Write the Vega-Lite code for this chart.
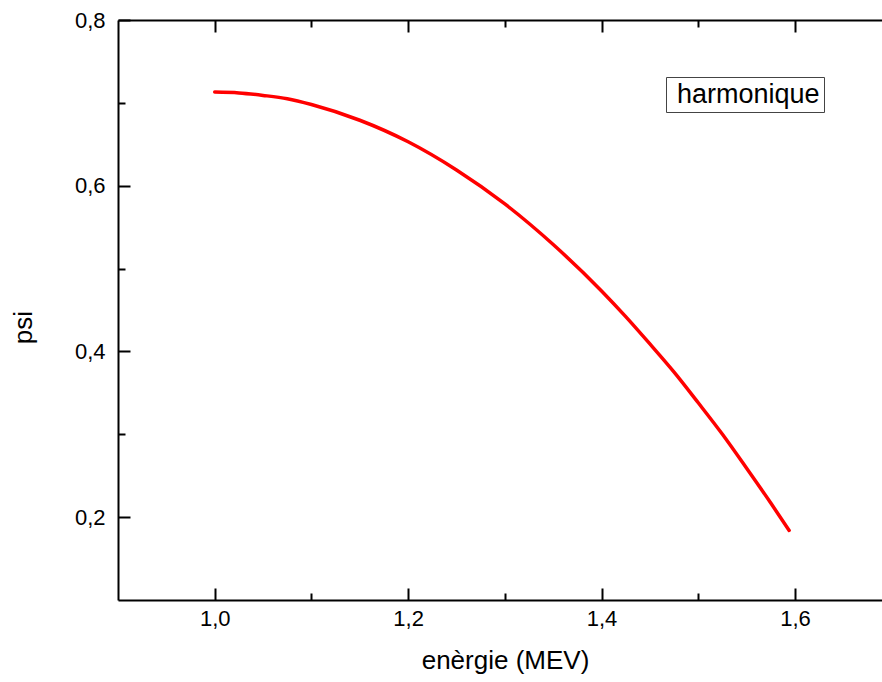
{
  "$schema": "https://vega.github.io/schema/vega-lite/v6.json",
  "width": 764,
  "height": 580,
  "autosize": {"type": "none"},
  "padding": {"left": 118, "top": 20, "right": 0, "bottom": 82},
  "background": "white",
  "config": {
    "view": {"stroke": null},
    "font": "Liberation Sans",
    "axis": {"grid": false, "domainColor": "black", "domainWidth": 2, "tickColor": "black", "tickWidth": 2, "labelColor": "black", "titleColor": "black"}
  },
  "data": {
    "values": [
      {"energie": 1.0, "psi": 0.713},
      {"energie": 1.025, "psi": 0.712},
      {"energie": 1.05, "psi": 0.709},
      {"energie": 1.075, "psi": 0.705},
      {"energie": 1.1, "psi": 0.698},
      {"energie": 1.15, "psi": 0.679},
      {"energie": 1.2, "psi": 0.653},
      {"energie": 1.25, "psi": 0.619},
      {"energie": 1.3, "psi": 0.578},
      {"energie": 1.35, "psi": 0.529},
      {"energie": 1.4, "psi": 0.473},
      {"energie": 1.425, "psi": 0.442},
      {"energie": 1.45, "psi": 0.409},
      {"energie": 1.475, "psi": 0.375},
      {"energie": 1.5, "psi": 0.338},
      {"energie": 1.525, "psi": 0.3},
      {"energie": 1.55, "psi": 0.259},
      {"energie": 1.575, "psi": 0.217},
      {"energie": 1.594, "psi": 0.184}
    ]
  },
  "layer": [
    {
      "mark": {"type": "line", "strokeWidth": 3.5, "interpolate": "monotone", "strokeCap": "round"},
      "encoding": {
        "x": {
          "field": "energie", "type": "quantitative",
          "scale": {"domain": [0.9, 1.69], "nice": false, "zero": false},
          "axis": {
            "orient": "bottom",
            "values": [1.0, 1.2, 1.4, 1.6],
            "tickSize": -12,
            "labelExpr": "replace(format(datum.value,'.1f'),'.',',')",
            "labelFontSize": 22, "labelFlush": false, "labelOverlap": false,
            "labelPadding": 20,
            "title": "enèrgie (MEV)", "titleFontSize": 26, "titleFontWeight": "normal",
            "titleX": 387, "titleY": 68, "titleBaseline": "alphabetic", "titleAlign": "center"
          }
        },
        "y": {
          "field": "psi", "type": "quantitative",
          "scale": {"domain": [0.1, 0.8], "nice": false, "zero": false},
          "axis": {
            "orient": "left",
            "values": [0.2, 0.4, 0.6, 0.8],
            "tickSize": -12,
            "labelExpr": "replace(format(datum.value,'.1f'),'.',',')",
            "labelFontSize": 22, "labelFlush": false, "labelOverlap": false,
            "labelPadding": 25,
            "title": "psi", "titleFontSize": 26, "titleFontWeight": "normal",
            "titleAngle": -90, "titleX": -87, "titleY": 307, "titleBaseline": "alphabetic", "titleAlign": "center"
          }
        },
        "color": {
          "datum": "harmonique", "type": "nominal",
          "scale": {"range": ["#ff0000"]},
          "legend": {
            "orient": "none", "legendX": 548, "legendY": 57,
            "title": null,
            "labelFontSize": 27, "labelColor": "black", "labelFont": "Liberation Sans",
            "symbolType": "circle", "symbolSize": 0, "symbolStrokeWidth": 0, "symbolOpacity": 0,
            "labelOffset": -20,
            "strokeColor": "#444444", "fillColor": "white", "padding": 4
          }
        }
      }
    },
    {
      "mark": {"type": "line", "opacity": 0},
      "encoding": {
        "x": {
          "field": "energie", "type": "quantitative",
          "axis": {"orient": "bottom", "values": [1.1, 1.3, 1.5], "tickSize": -7, "labels": false, "domain": false, "title": null}
        },
        "y": {
          "field": "psi", "type": "quantitative",
          "axis": {"orient": "left", "values": [0.3, 0.5, 0.7], "tickSize": -7, "labels": false, "domain": false, "title": null}
        }
      }
    },
    {
      "mark": {"type": "line", "opacity": 0},
      "encoding": {
        "x": {
          "field": "energie", "type": "quantitative",
          "axis": {"orient": "top", "values": [1.0, 1.2, 1.4, 1.6], "tickSize": -12, "labels": false, "title": null}
        },
        "y": {"field": "psi", "type": "quantitative", "axis": null}
      }
    },
    {
      "mark": {"type": "line", "opacity": 0},
      "encoding": {
        "x": {
          "field": "energie", "type": "quantitative",
          "axis": {"orient": "top", "values": [1.1, 1.3, 1.5], "tickSize": -7, "labels": false, "domain": false, "title": null}
        },
        "y": {"field": "psi", "type": "quantitative", "axis": null}
      }
    }
  ],
  "resolve": {"axis": {"x": "independent", "y": "independent"}}
}
